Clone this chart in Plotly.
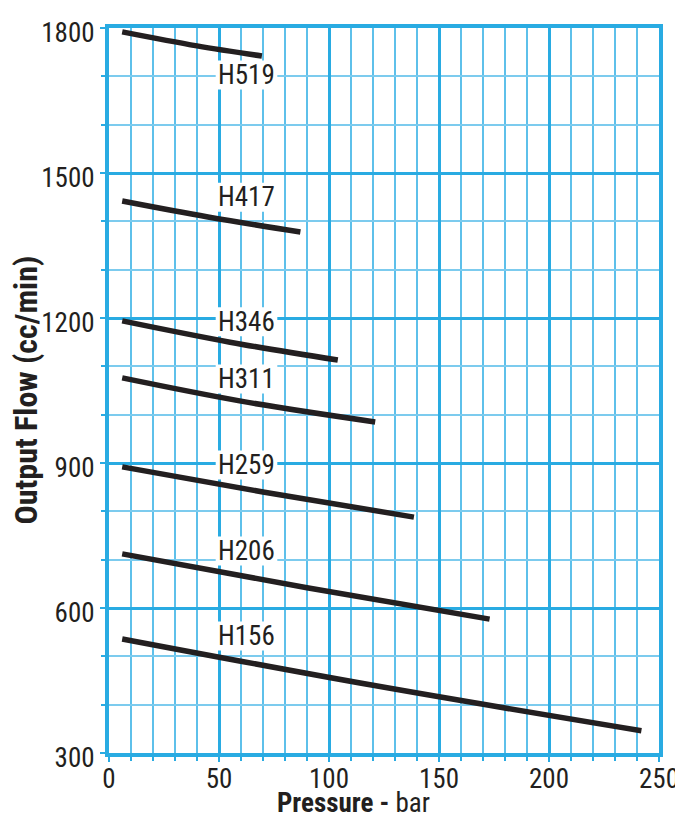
import plotly.graph_objects as go

models = ["H519", "H417", "H346", "H311", "H259", "H206", "H156"]
pressure = {
    "H519": [6, 40, 69.5],
    "H417": [6, 45, 87],
    "H346": [6, 55, 104],
    "H311": [6, 60, 121],
    "H259": [6, 70, 138.6],
    "H206": [6, 90, 173],
    "H156": [6, 120, 242],
}
flow = {
    "H519": [1792, 1763, 1742],
    "H417": [1442, 1409, 1378],
    "H346": [1194, 1150, 1113],
    "H311": [1076, 1028, 985],
    "H259": [892, 840, 788],
    "H206": [712, 642, 577],
    "H156": [536, 440, 346],
}
label_x = [62.5, 62.5, 62.5, 62.5, 62.5, 62.5, 62.5]
label_y = [1703, 1450, 1192, 1074, 896, 718, 542]
x_ticks = [0, 50, 100, 150, 200, 250]
y_ticks = [300, 600, 900, 1200, 1500, 1800]

FONT = "Liberation Sans Narrow, Arial Narrow, Roboto Condensed, Liberation Sans, sans-serif"
BLUE = "#29abe2"
INK = "#231f20"
BOX_HALF_W = 14   # bar
BOX_HALF_H = 30   # cc/min

fig = go.Figure()

# white knock-out boxes behind the labels (between grid and curves)
for lx, ly in zip(label_x, label_y):
    fig.add_shape(type="rect", xref="x", yref="y",
                  x0=lx - BOX_HALF_W, x1=lx + BOX_HALF_W,
                  y0=ly - BOX_HALF_H, y1=ly + BOX_HALF_H,
                  fillcolor="white", line=dict(width=0), layer="between")

for m in models:
    fig.add_trace(go.Scatter(
        x=pressure[m], y=flow[m], mode="lines",
        line=dict(color=INK, width=5.5, shape="spline", smoothing=1.0),
        showlegend=False, hoverinfo="skip",
    ))

for m, lx, ly in zip(models, label_x, label_y):
    fig.add_annotation(x=lx, y=ly, text=m, showarrow=False,
                       font=dict(family=FONT, size=27, color=INK))

fig.add_annotation(xref="paper", yref="paper", x=-0.1527, y=0.5,
                   text="<b>Output Flow (cc/min)</b>", textangle=-90, showarrow=False,
                   xanchor="center", yanchor="middle",
                   font=dict(family=FONT, size=32, color=INK))
fig.add_annotation(xref="paper", yref="paper", x=0.445, y=-0.069,
                   text="<b>Pressure -</b> bar", showarrow=False,
                   xanchor="center", yanchor="middle",
                   font=dict(family=FONT, size=27, color=INK))

fig.update_layout(
    width=675, height=811,
    margin=dict(l=101, r=24, t=20, b=66),
    paper_bgcolor="white", plot_bgcolor="white",
    font=dict(family=FONT, color=INK),
    xaxis=dict(
        range=[0, 250], tickvals=x_ticks, ticktext=[str(v) for v in x_ticks],
        showgrid=True, gridcolor=BLUE, gridwidth=3,
        showline=True, linecolor=BLUE, linewidth=4, mirror=True,
        ticks="outside", ticklen=5, tickcolor=BLUE, tickwidth=2,
        ticklabelstandoff=-6,
        tickfont=dict(size=27, family=FONT, color=INK),
        minor=dict(dtick=10, tick0=0, showgrid=True, gridcolor="#5ec0ea", gridwidth=1.5,
                   ticks="outside", ticklen=4, tickcolor=BLUE),
        zeroline=False, automargin=False,
    ),
    yaxis=dict(
        range=[300, 1800], tickvals=y_ticks, ticktext=[str(v) for v in y_ticks],
        showgrid=True, gridcolor=BLUE, gridwidth=3,
        showline=True, linecolor=BLUE, linewidth=4, mirror=True,
        ticks="outside", ticklen=5, tickcolor=BLUE, tickwidth=2,
        ticklabelshift=5,
        tickfont=dict(size=27, family=FONT, color=INK),
        minor=dict(dtick=100, tick0=300, showgrid=True, gridcolor="#7ccbee", gridwidth=2,
                   ticks="outside", ticklen=4, tickcolor=BLUE),
        zeroline=False, automargin=False,
    ),
)

fig.write_html("out.html")
